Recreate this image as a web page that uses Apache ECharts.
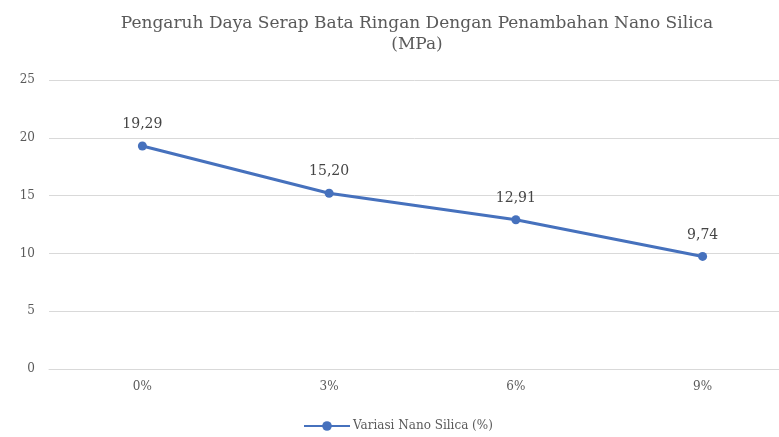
<!DOCTYPE html>
<html>
<head>
<meta charset="utf-8">
<style>
  html, body { margin: 0; padding: 0; background: #ffffff; }
  #chart { width: 779px; height: 437px; }
</style>
<script src="https://cdn.jsdelivr.net/npm/echarts@6/dist/echarts.min.js"></script>
</head>
<body>
<div id="chart"></div>
<script>
// Absorption values of lightweight brick for each nano silica dosage
const categories = ['0%', '3%', '6%', '9%'];
const absorption = [19.29, 15.20, 12.91, 9.74];
const yTicks = [0, 5, 10, 15, 20, 25];
const seriesName = 'Variasi Nano Silica (%)';
const titleText = 'Pengaruh Daya Serap Bata Ringan Dengan Penambahan Nano Silica\n(MPa)';

const serif = '"DejaVu Serif", "Liberation Serif", serif';
const chart = echarts.init(document.getElementById('chart'), null, { renderer: 'canvas' });

chart.setOption({
  backgroundColor: '#ffffff',
  animation: false,
  title: {
    text: titleText,
    left: 412,
    textAlign: 'center',
    top: 8,
    textStyle: {
      fontFamily: serif,
      fontWeight: 'normal',
      fontSize: 17,
      color: '#5a5a5a',
      lineHeight: 21
    }
  },
  grid: { left: 49, top: 80, width: 747, height: 289, containLabel: false, outerBoundsMode: 'none' },
  xAxis: {
    type: 'category',
    data: categories,
    boundaryGap: true,
    axisLine: { show: true, lineStyle: { color: '#d9d9d9', width: 1 } },
    axisTick: { show: false },
    axisLabel: { fontFamily: serif, fontSize: 12, color: '#5a5a5a', margin: 12 }
  },
  yAxis: {
    type: 'value',
    min: yTicks[0],
    max: yTicks[yTicks.length - 1],
    interval: yTicks[1] - yTicks[0],
    axisLine: { show: false },
    axisTick: { show: false },
    axisLabel: { fontFamily: serif, fontSize: 12, color: '#5a5a5a', margin: 14 },
    splitLine: { lineStyle: { color: '#d9d9d9', width: 1 } }
  },
  legend: {
    top: 415,
    left: 298,
    itemWidth: 46,
    itemHeight: 12,
    itemGap: 10,
    textStyle: { fontFamily: serif, fontSize: 12, color: '#5a5a5a', padding: [0, 0, 0, -2] },
    data: [seriesName]
  },
  series: [{
    name: seriesName,
    type: 'line',
    data: absorption,
    symbol: 'circle',
    symbolSize: 9,
    lineStyle: { color: '#4671bd', width: 3 },
    itemStyle: { color: '#4671bd' },
    label: {
      show: true,
      position: 'top',
      distance: 10,
      fontFamily: serif,
      fontSize: 14,
      color: '#454545',
      formatter: p => p.value.toFixed(2).replace('.', ',')
    }
  }]
});
</script>
</body>
</html>
